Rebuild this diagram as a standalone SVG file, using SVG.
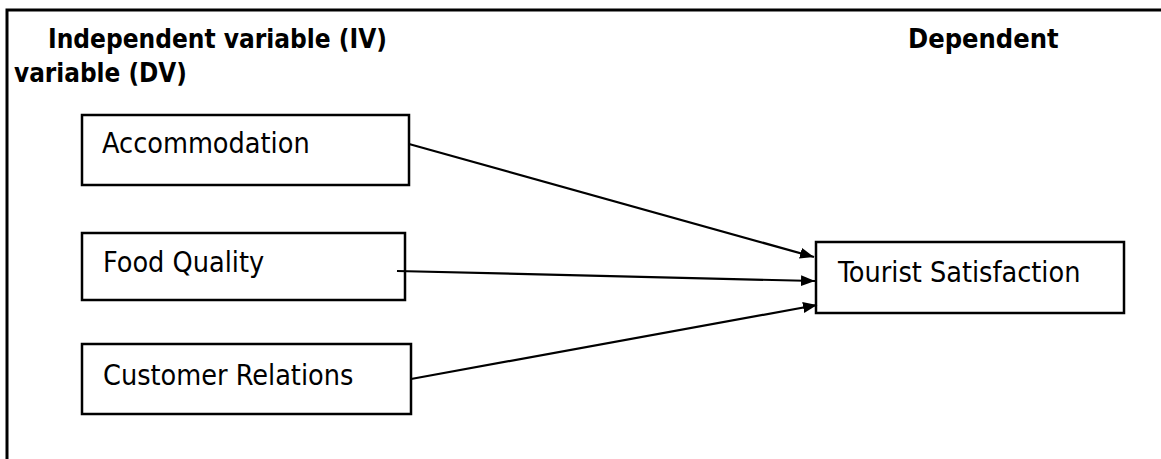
<svg xmlns="http://www.w3.org/2000/svg" width="1161" height="459" viewBox="0 0 1161 459">
  <style>
    .frame { fill: none; stroke: #000; stroke-width: 3; }
    .box { fill: #fff; stroke: #000; stroke-width: 2.5; }
    .lbl { font-family: "DejaVu Sans Condensed", "DejaVu Sans", sans-serif; font-stretch: condensed; font-size: 28.5px; fill: #000; }
    .hdr { font-family: "DejaVu Sans Condensed", "DejaVu Sans", sans-serif; font-stretch: condensed; font-weight: bold; font-size: 27px; fill: #000; }
    .conn { stroke: #000; stroke-width: 2.2; fill: none; marker-end: url(#arrow); }
  </style>
  <defs>
    <marker id="arrow" markerUnits="userSpaceOnUse" markerWidth="16" markerHeight="12" refX="14" refY="5.5" orient="auto">
      <path d="M0,0 L14,5.5 L0,11 z" fill="#000"/>
    </marker>
  </defs>
  <rect width="1161" height="459" fill="#fff"/>
  <path class="frame" d="M7,459 L7,10 L1161,10"/>
  <g id="headers">
    <text class="hdr" x="48" y="48" textLength="339" lengthAdjust="spacingAndGlyphs">Independent variable (IV)</text>
    <text class="hdr" x="908" y="48">Dependent</text>
    <text class="hdr" x="14" y="82" textLength="173" lengthAdjust="spacingAndGlyphs">variable (DV)</text>
  </g>
  <g id="node-accommodation">
    <rect class="box" x="82" y="115" width="327" height="70"/>
    <text class="lbl" x="102" y="153">Accommodation</text>
  </g>
  <g id="node-food-quality">
    <rect class="box" x="82" y="233" width="323" height="67"/>
    <text class="lbl" x="103" y="272">Food Quality</text>
  </g>
  <g id="node-customer-relations">
    <rect class="box" x="82" y="344" width="329" height="70"/>
    <text class="lbl" x="103" y="385">Customer Relations</text>
  </g>
  <g id="node-tourist-satisfaction">
    <rect class="box" x="816" y="242" width="308" height="71"/>
    <text class="lbl" x="838" y="282">Tourist Satisfaction</text>
  </g>
  <g id="connectors">
    <line class="conn" x1="409" y1="144" x2="814" y2="257"/>
    <line class="conn" x1="397" y1="271" x2="815" y2="281"/>
    <line class="conn" x1="411" y1="379" x2="817" y2="305"/>
  </g>
</svg>
